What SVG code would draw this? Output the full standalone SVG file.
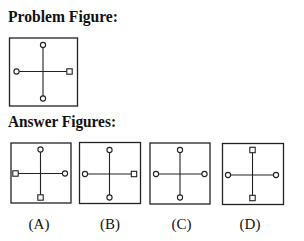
<svg xmlns="http://www.w3.org/2000/svg" width="304" height="241" viewBox="0 0 304 241">
<style>
.title{font-family:"Liberation Serif","Times New Roman",serif;font-weight:bold;font-size:17.5px;fill:#111}
.lbl{font-family:"Liberation Serif","Times New Roman",serif;font-size:15px;fill:#111;text-anchor:middle}
.box{fill:#fff;stroke:#222;stroke-width:1.3}
.arm{stroke:#222;stroke-width:1.1;fill:none}
.c{fill:#fff;stroke:#222;stroke-width:1.1}
</style>
<rect width="304" height="241" fill="#fff"/>
<text class="title" x="8" y="22" textLength="110" lengthAdjust="spacingAndGlyphs">Problem Figure:</text>
<text class="title" x="8" y="127" textLength="108" lengthAdjust="spacingAndGlyphs">Answer Figures:</text>

<g id="problem">
<rect class="box" x="9.5" y="38" width="68" height="68"/>
<line class="arm" x1="43" y1="45" x2="43" y2="98.5"/>
<line class="arm" x1="16.5" y1="71.5" x2="69.5" y2="71.5"/>
<circle class="c" cx="43" cy="45" r="2.6"/>
<circle class="c" cx="43" cy="98.5" r="2.6"/>
<circle class="c" cx="16.5" cy="71.5" r="2.6"/>
<rect class="c" x="66.8" y="68.8" width="5.4" height="5.4"/>
</g>

<g id="figA">
<rect class="box" x="11" y="143" width="60" height="60"/>
<line class="arm" x1="40.5" y1="149.5" x2="40.5" y2="197.5"/>
<line class="arm" x1="15.5" y1="173.5" x2="65" y2="173.5"/>
<circle class="c" cx="40.5" cy="149.5" r="2.6"/>
<rect class="c" x="37.8" y="194.8" width="5.4" height="5.4"/>
<rect class="c" x="12.8" y="170.8" width="5.4" height="5.4"/>
<circle class="c" cx="65" cy="173.5" r="2.6"/>
</g>

<g id="figB">
<rect class="box" x="79.5" y="142.5" width="61" height="61"/>
<line class="arm" x1="109.5" y1="150" x2="109.5" y2="197.5"/>
<line class="arm" x1="85" y1="174" x2="134" y2="174"/>
<circle class="c" cx="109.5" cy="150" r="2.6"/>
<circle class="c" cx="109.5" cy="197.5" r="2.6"/>
<circle class="c" cx="85" cy="174" r="2.6"/>
<rect class="c" x="131.3" y="171.3" width="5.4" height="5.4"/>
</g>

<g id="figC">
<rect class="box" x="150" y="143" width="60" height="61"/>
<line class="arm" x1="180" y1="150" x2="180" y2="197.5"/>
<line class="arm" x1="156" y1="174" x2="204.5" y2="174"/>
<circle class="c" cx="180" cy="150" r="2.6"/>
<circle class="c" cx="180" cy="197.5" r="2.6"/>
<circle class="c" cx="156" cy="174" r="2.6"/>
<circle class="c" cx="204.5" cy="174" r="2.6"/>
</g>

<g id="figD">
<rect class="box" x="222.5" y="143.5" width="61" height="61"/>
<line class="arm" x1="252.5" y1="150" x2="252.5" y2="198"/>
<line class="arm" x1="228" y1="175" x2="276" y2="175"/>
<rect class="c" x="249.8" y="147.3" width="5.4" height="5.4"/>
<rect class="c" x="249.8" y="195.3" width="5.4" height="5.4"/>
<circle class="c" cx="228" cy="175" r="2.6"/>
<circle class="c" cx="276" cy="175" r="2.6"/>
</g>

<text class="lbl" x="39" y="229">(A)</text>
<text class="lbl" x="110" y="229">(B)</text>
<text class="lbl" x="181.5" y="229">(C)</text>
<text class="lbl" x="250" y="229">(D)</text>
</svg>
